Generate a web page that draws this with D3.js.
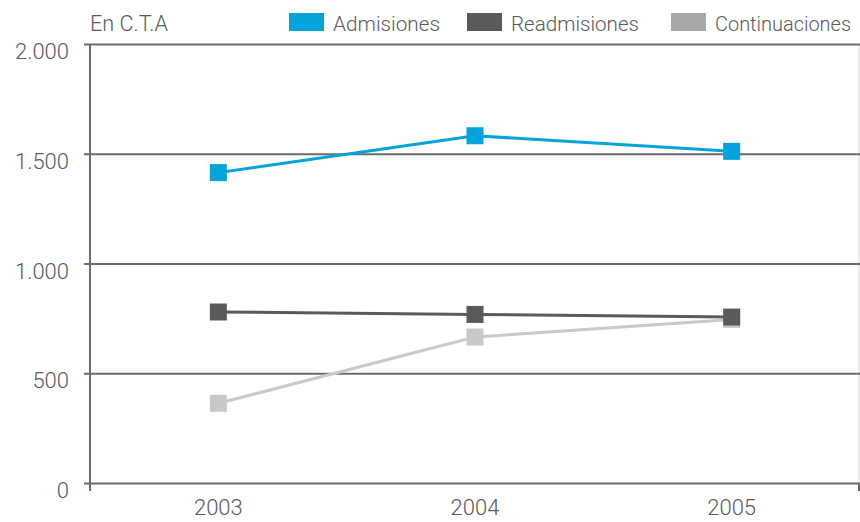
<!DOCTYPE html>
<html><head><meta charset="utf-8">
<script src="https://cdn.jsdelivr.net/npm/d3@7/dist/d3.min.js"></script>
<style>
body{margin:0;background:#fff;}
text{font-family:Roboto,"DejaVu Sans Condensed",sans-serif;font-weight:300;fill:#5a5a5a;}
</style></head>
<body><svg id="c" width="860" height="522"></svg>
<script>
const years = ["2003","2004","2005"];
const admisiones = [1414, 1582, 1511];
const readmisiones = [779, 768, 756];
const continuaciones = [363, 665, 745];
const yTicks = [0, 500, 1000, 1500, 2000];
const unitLabel = "En C.T.A";
const seriesNames = ["Admisiones","Readmisiones","Continuaciones"];
const lineColors = ["#00a3da","#5a5a5c","#c8c9cb"];
const legendColors = ["#00a3da","#5a5a5c","#a8a8ab"];

const svg = d3.select("#c");
const x = d3.scaleBand().domain(years).range([90, 860]);
const y = d3.scaleLinear().domain([0, 2000]).range([483, 44]);
const fmt = v => d3.format(",")(v).replace(/,/g, ".");

// right border
svg.append("line").attr("x1",859).attr("x2",859).attr("y1",44).attr("y2",491)
  .attr("stroke","#d6d6d6").attr("stroke-width",1);

// gridlines with y axis
const yAxis = d3.axisLeft(y).tickValues(yTicks).tickSize(-(860-84)).tickPadding(0).tickFormat(fmt);
const gy = svg.append("g").attr("transform","translate(84,0)").call(yAxis);
gy.select(".domain").remove();
gy.selectAll(".tick line").attr("stroke","#6b6b6b").attr("stroke-width",2);
gy.selectAll(".tick text").attr("x",-15).attr("y",1).attr("dy","0.62em").attr("font-size",22).attr("fill","#5a5a5a").attr("text-anchor","end");

// vertical axis line
svg.append("line").attr("x1",90).attr("x2",90).attr("y1",y(2000)).attr("y2",491)
  .attr("stroke","#6b6b6b").attr("stroke-width",2);

// x axis labels
const xAxis = d3.axisBottom(x).tickSize(0).tickPadding(16);
const gx = svg.append("g").attr("transform",`translate(0,${y(0)})`).call(xAxis);
gx.select(".domain").remove();
gx.selectAll(".tick text").attr("font-size",22).attr("fill","#5a5a5a");
svg.append("line").attr("x1",859).attr("x2",859).attr("y1",483).attr("y2",491)
  .attr("stroke","#6b6b6b").attr("stroke-width",2);

// series
const allSeries = [admisiones, readmisiones, continuaciones];
const line = d3.line().x((d,i)=>x(years[i])+x.bandwidth()/2).y(d=>y(d));
const order = [2,1,0];
order.forEach(si=>{
  const data = allSeries[si];
  const g = svg.append("g");
  g.append("path").datum(data).attr("d",line).attr("fill","none")
    .attr("stroke",lineColors[si]).attr("stroke-width",3);
  g.selectAll("rect").data(data).join("rect")
    .attr("x",(d,i)=>x(years[i])+x.bandwidth()/2-8.5)
    .attr("y",d=>y(d)-8.5)
    .attr("width",17).attr("height",17)
    .attr("fill",lineColors[si]);
});

// unit label
svg.append("text").attr("x",90).attr("y",31).attr("font-size",22)
  .attr("textLength",78).attr("lengthAdjust","spacingAndGlyphs").text(unitLabel);

// legend
const legX = [289, 467, 671];
const legW = [107, 128, 136];
seriesNames.forEach((n,i)=>{
  svg.append("rect").attr("x",legX[i]).attr("y",13).attr("width",35).attr("height",18).attr("fill",legendColors[i]);
  svg.append("text").attr("x",legX[i]+44).attr("y",31).attr("font-size",20)
    .attr("textLength",legW[i]).attr("lengthAdjust","spacingAndGlyphs").text(n);
});
</script></body></html>
